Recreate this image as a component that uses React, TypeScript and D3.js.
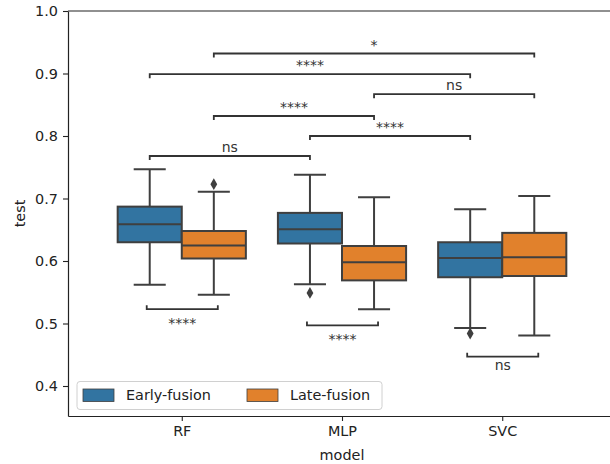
import React, { useEffect, useRef } from 'react';
import * as d3 from 'd3';

const categories = ['RF', 'MLP', 'SVC'];
const hues = ['Early-fusion', 'Late-fusion'];
const hueColors = ['#3274a1', '#e1812c'];

// box stats per hue, one entry per category
const whiskerLow = [
  [0.562, 0.563, 0.493],
  [0.546, 0.523, 0.481],
];
const q1 = [
  [0.63, 0.628, 0.574],
  [0.604, 0.569, 0.576],
];
const median = [
  [0.659, 0.651, 0.605],
  [0.625, 0.598, 0.606],
];
const q3 = [
  [0.687, 0.677, 0.63],
  [0.648, 0.624, 0.645],
];
const whiskerHigh = [
  [0.747, 0.738, 0.683],
  [0.711, 0.702, 0.704],
];
// outliers: [category, hue, value]
const outliers = [
  [0, 1, 0.723],
  [1, 0, 0.549],
  [2, 0, 0.484],
];

// significance annotations: [cat1, hue1, cat2, hue2, level, label]
const topTests = [
  [0, 1, 2, 1, 0.932, '*'],
  [0, 0, 2, 0, 0.899, '****'],
  [1, 1, 2, 1, 0.867, 'ns'],
  [0, 1, 1, 1, 0.832, '****'],
  [1, 0, 2, 0, 0.8, '****'],
  [0, 0, 1, 0, 0.768, 'ns'],
];
const bottomTests = [
  [0, 0.523, '****'],
  [1, 0.497, '****'],
  [2, 0.447, 'ns'],
];

const yTicks = [0.4, 0.5, 0.6, 0.7, 0.8, 0.9, 1.0];

const W = 610;
const H = 464;

const App = () => {
  const svgRef = useRef();

  useEffect(() => {
    d3.select(svgRef.current).selectAll('*').remove();
    const svg = d3.select(svgRef.current);
    const font = 'DejaVu Sans, sans-serif';
    const edge = '#3f3f3f';

    const left = 68, top = 11, bottom = 416, right = 616;
    const x = d3.scaleLinear().domain([-0.71, 2.71]).range([left, right]);
    const y = d3.scaleLinear().domain([0.352, 1.0]).range([bottom, top]);
    const step = x(1) - x(0);
    const boxW = step * 0.4;
    const cx = (c, h) => x(c) + (h === 0 ? -0.2 : 0.2) * step;

    svg.append('rect').attr('width', W).attr('height', H).attr('fill', '#fff');

    // boxes
    hues.forEach((hue, h) => {
      categories.forEach((cat, c) => {
        const g = svg.append('g');
        const xc = cx(c, h);
        g.append('line')
          .attr('x1', xc).attr('x2', xc)
          .attr('y1', y(whiskerLow[h][c])).attr('y2', y(q1[h][c]))
          .attr('stroke', edge).attr('stroke-width', 2);
        g.append('line')
          .attr('x1', xc).attr('x2', xc)
          .attr('y1', y(q3[h][c])).attr('y2', y(whiskerHigh[h][c]))
          .attr('stroke', edge).attr('stroke-width', 2);
        [whiskerLow[h][c], whiskerHigh[h][c]].forEach(v => {
          g.append('line')
            .attr('x1', xc - boxW / 4).attr('x2', xc + boxW / 4)
            .attr('y1', y(v)).attr('y2', y(v))
            .attr('stroke', edge).attr('stroke-width', 2);
        });
        g.append('rect')
          .attr('x', xc - boxW / 2).attr('width', boxW)
          .attr('y', y(q3[h][c])).attr('height', y(q1[h][c]) - y(q3[h][c]))
          .attr('fill', hueColors[h]).attr('stroke', edge).attr('stroke-width', 2);
        g.append('line')
          .attr('x1', xc - boxW / 2).attr('x2', xc + boxW / 2)
          .attr('y1', y(median[h][c])).attr('y2', y(median[h][c]))
          .attr('stroke', edge).attr('stroke-width', 2);
      });
    });

    // outlier diamonds
    svg.selectAll('.outlier')
      .data(outliers)
      .enter().append('path')
      .attr('d', d3.symbol().type(d3.symbolDiamond).size(40))
      .attr('transform', d => `translate(${cx(d[0], d[1])},${y(d[2])})`)
      .attr('fill', edge);

    // top brackets
    topTests.forEach(([c1, h1, c2, h2, lvl, label]) => {
      const x1 = cx(c1, h1), x2 = cx(c2, h2), yy = y(lvl);
      svg.append('path')
        .attr('d', `M${x1},${yy + 4}V${yy}H${x2}V${yy + 4}`)
        .attr('fill', 'none').attr('stroke', '#333').attr('stroke-width', 1.8);
      svg.append('text')
        .attr('x', (x1 + x2) / 2).attr('y', yy - 4)
        .attr('text-anchor', 'middle')
        .attr('font-family', font).attr('font-size', 14)
        .attr('fill', '#333')
        .text(label);
    });

    // bottom brackets
    bottomTests.forEach(([c, lvl, label]) => {
      const x1 = cx(c, 0) - 3, x2 = cx(c, 1) + 4, yy = y(lvl);
      svg.append('path')
        .attr('d', `M${x1},${yy - 4}V${yy}H${x2}V${yy - 4}`)
        .attr('fill', 'none').attr('stroke', '#333').attr('stroke-width', 1.8);
      svg.append('text')
        .attr('x', (x1 + x2) / 2).attr('y', yy + (label === 'ns' ? 13 : 19))
        .attr('text-anchor', 'middle')
        .attr('font-family', font).attr('font-size', 14)
        .attr('fill', '#333')
        .text(label);
    });

    // axes
    const yAxis = svg.append('g')
      .attr('transform', `translate(${left},0)`)
      .call(d3.axisLeft(y).tickValues(yTicks).tickFormat(d3.format('.1f')).tickSizeInner(5).tickSizeOuter(0).tickPadding(5));
    const xAxis = svg.append('g')
      .attr('transform', `translate(0,${bottom})`)
      .call(d3.axisBottom(x).tickValues([0, 1, 2]).tickFormat(i => categories[i]).tickSizeInner(5).tickSizeOuter(0).tickPadding(5));
    [yAxis, xAxis].forEach(a => {
      a.selectAll('text').attr('font-family', font).attr('font-size', 14.4).attr('fill', '#222');
      a.selectAll('line').attr('stroke', '#222').attr('stroke-width', 1.1);
      a.select('.domain').attr('stroke', '#222').attr('stroke-width', 1.2);
    });
    svg.append('line')
      .attr('x1', left).attr('x2', right).attr('y1', top).attr('y2', top)
      .attr('stroke', '#222').attr('stroke-width', 1.2);

    // axis labels
    svg.append('text')
      .attr('x', (left + right) / 2).attr('y', 460)
      .attr('text-anchor', 'middle')
      .attr('font-family', font).attr('font-size', 14.4).attr('fill', '#222')
      .text('model');
    svg.append('text')
      .attr('transform', `translate(25,${(top + bottom) / 2}) rotate(-90)`)
      .attr('text-anchor', 'middle')
      .attr('font-family', font).attr('font-size', 14.4).attr('fill', '#222')
      .text('test');

    // legend
    const legend = svg.append('g');
    legend.append('rect')
      .attr('x', 77).attr('y', 381.5).attr('width', 305).attr('height', 28).attr('rx', 3)
      .attr('fill', '#fff').attr('fill-opacity', 0.8)
      .attr('stroke', '#d0d0d0').attr('stroke-width', 1);
    const itemX = [83, 247];
    hues.forEach((hue, h) => {
      legend.append('rect')
        .attr('x', itemX[h]).attr('y', 389).attr('width', 31).attr('height', 12.5)
        .attr('fill', hueColors[h]).attr('stroke', edge).attr('stroke-width', 0.8);
      legend.append('text')
        .attr('x', itemX[h] + 43).attr('y', 400)
        .attr('font-family', font).attr('font-size', 14.4).attr('fill', '#222')
        .text(hue);
    });
  }, []);

  return <svg ref={svgRef} width={W} height={H} style={{ position: 'absolute', left: 0, top: 0 }}></svg>;
};

export default App;
